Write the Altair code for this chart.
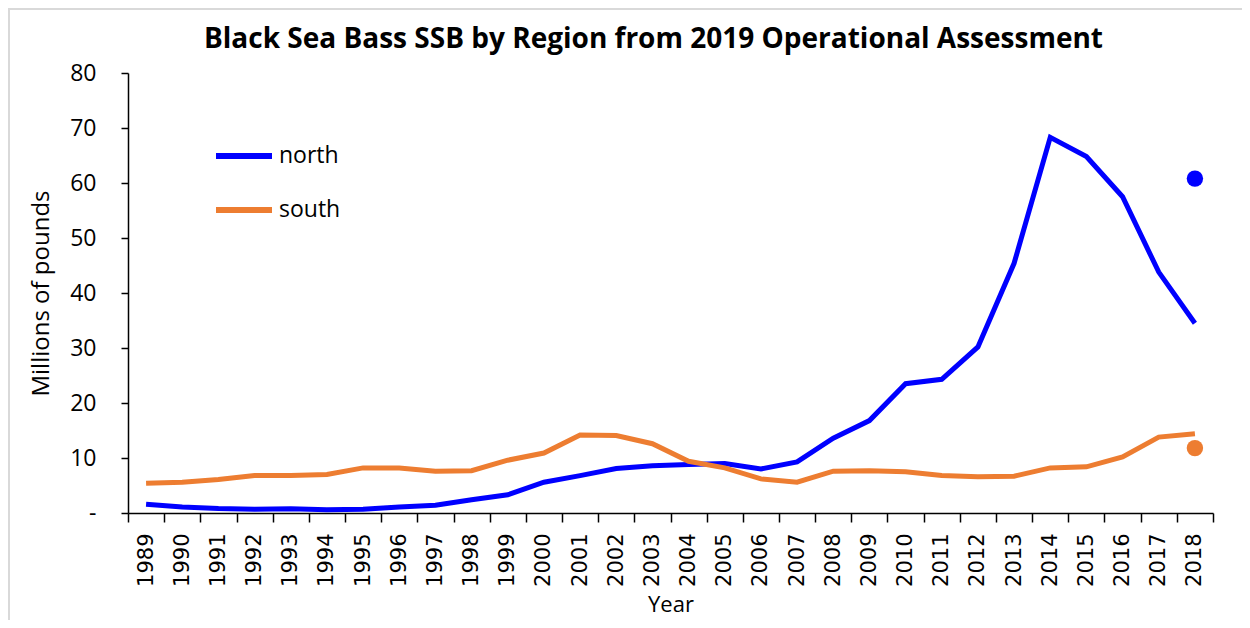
import altair as alt
import pandas as pd

years = [str(y) for y in range(1989, 2019)]
north = [1.6, 1.1, 0.8, 0.7, 0.75, 0.6, 0.7, 1.1, 1.4, 2.4, 3.3, 5.6, 6.8, 8.1, 8.6,
         8.8, 9.0, 8.0, 9.3, 13.6, 16.8, 23.5, 24.3, 30.2, 45.4, 68.3, 64.8, 57.5, 43.8, 34.5]
south = [5.4, 5.6, 6.1, 6.8, 6.8, 7.0, 8.2, 8.2, 7.6, 7.7, 9.6, 10.9, 14.2, 14.1, 12.6,
         9.4, 8.2, 6.2, 5.6, 7.6, 7.7, 7.5, 6.8, 6.6, 6.7, 8.2, 8.4, 10.2, 13.8, 14.4]
point_regions = ["north", "south"]
point_years = ["2018", "2018"]
point_values = [60.8, 11.8]

regions = ["north", "south"]
colors = ["#0000FF", "#ED7D31"]

lines_df = pd.DataFrame({
    "Year": years * 2,
    "value": north + south,
    "region": ["north"] * len(years) + ["south"] * len(years),
})
pts_df = pd.DataFrame({"Year": point_years, "value": point_values, "region": point_regions})

FONT = "Open Sans"

x_enc = alt.X("Year:O", sort=years, title="Year",
              scale=alt.Scale(paddingInner=0, paddingOuter=0),
              axis=alt.Axis(labelAngle=-90, labelFontSize=21, titleFontSize=22,
                            labelFont="DejaVu Sans", titleFont=FONT, labelColor="black",
                            titleColor="black", domainColor="black", tickColor="black",
                            tickBand="extent", tickSize=9, labelPadding=11,
                            titleFontWeight="normal", labelBaseline="middle", labelAlign="right",
                            titlePadding=8))
y_enc = alt.Y("value:Q", title="Millions of pounds",
              scale=alt.Scale(domain=[0, 80], nice=False),
              axis=alt.Axis(values=[0, 10, 20, 30, 40, 50, 60, 70, 80],
                            labelExpr="datum.value == 0 ? '-' : datum.label",
                            labelFontSize=23, titleFontSize=24, labelFont=FONT, titleFont=FONT,
                            labelColor="black", titleColor="black", domainColor="black",
                            tickColor="black", tickSize=7, labelPadding=25, grid=False,
                            titleFontWeight="normal", titlePadding=16))
color_enc = alt.Color("region:N",
                      scale=alt.Scale(domain=regions, range=colors),
                      legend=alt.Legend(title=None, orient="none", legendX=85, legendY=52,
                                        symbolType="stroke", symbolSize=3136,
                                        symbolStrokeWidth=6, labelFontSize=23,
                                        labelFont=FONT, labelColor="black",
                                        padding=0, rowPadding=11, labelOffset=4))

lines = alt.Chart(lines_df).mark_line(strokeWidth=5).encode(x=x_enc, y=y_enc, color=color_enc)
points = alt.Chart(pts_df).mark_point(filled=True, size=270, opacity=1).encode(
    x=x_enc, y=y_enc, color=alt.Color("region:N", scale=alt.Scale(domain=regions, range=colors), legend=None))

border_left = alt.Chart(pts_df).mark_rule(color="#D9D9D9", strokeWidth=2, clip=False).encode(
    x=alt.value(-119), y=alt.value(-64), y2=alt.value(560))
border_top = alt.Chart(pts_df).mark_rule(color="#D9D9D9", strokeWidth=2, clip=False).encode(
    x=alt.value(-120), x2=alt.value(1130), y=alt.value(-64))

chart = alt.layer(border_left, border_top, lines, points).properties(
    width=1085, height=440,
    autosize=alt.AutoSizeParams(type="none"),
    padding={"left": 120, "top": 65, "right": 29, "bottom": 107},
    title=alt.Title("Black Sea Bass SSB by Region from 2019 Operational Assessment",
                    fontSize=28, font=FONT, fontWeight="bold", color="black",
                    offset=0, dy=46, dx=-17),
).configure_view(stroke=None).configure_axis(domainWidth=1.5, tickWidth=1.5)

chart.save("out.html", embed_options={"renderer": "svg", "actions": False})
